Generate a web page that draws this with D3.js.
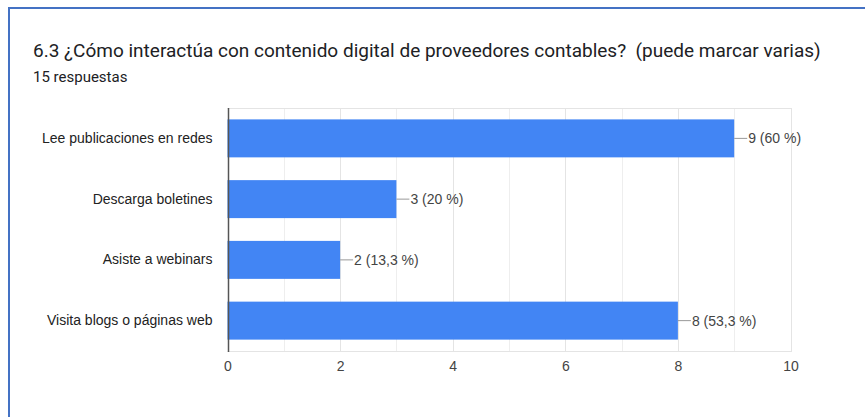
<!DOCTYPE html>
<html>
<head>
<meta charset="utf-8">
<script src="https://cdn.jsdelivr.net/npm/d3@7"></script>
<style>
  html, body { margin: 0; padding: 0; background: #fff; }
  svg { display: block; }
</style>
</head>
<body>
<svg id="chart" width="865" height="417"></svg>
<script>
// Survey answers: counts per option, out of the total respondents
const categories = [
  "Lee publicaciones en redes",
  "Descarga boletines",
  "Asiste a webinars",
  "Visita blogs o páginas web"
];
const counts = [9, 3, 2, 8];
const percentLabels = ["60 %", "20 %", "13,3 %", "53,3 %"];
const xTicks = [0, 2, 4, 6, 8, 10];
const gridValues = [1, 2, 3, 4, 5, 6, 7, 8, 9, 10];
const title = "6.3 ¿Cómo interactúa con contenido digital de proveedores contables?  (puede marcar varias)";
const subtitle = "15 respuestas";

const svg = d3.select("#chart");

// Card frame (top and left edges)
svg.append("rect").attr("x", 8).attr("y", 7).attr("width", 857).attr("height", 2).attr("fill", "#4472c4");
svg.append("rect").attr("x", 8).attr("y", 7).attr("width", 2).attr("height", 410).attr("fill", "#4472c4");

svg.append("text")
  .attr("x", 33).attr("y", 57)
  .attr("font-family", "Roboto, sans-serif")
  .attr("font-size", 19)
  .attr("fill", "#202124")
  .style("white-space", "pre")
  .text(title);

svg.append("text")
  .attr("x", 33).attr("y", 82)
  .attr("font-family", "Roboto, sans-serif")
  .attr("font-size", 15)
  .attr("fill", "#202124")
  .text(subtitle);

const plot = { left: 227.5, right: 790.5, top: 108, bottom: 351 };

const x = d3.scaleLinear().domain([0, 10]).range([plot.left, plot.right]);
const y = d3.scaleBand().domain(categories).range([plot.top, plot.bottom]).paddingInner(0.375).paddingOuter(0.1875);

// Vertical gridlines
svg.append("g")
  .selectAll("line")
  .data(gridValues)
  .join("line")
  .attr("x1", d => Math.round(x(d)) + 0.5)
  .attr("x2", d => Math.round(x(d)) + 0.5)
  .attr("y1", plot.top)
  .attr("y2", plot.bottom)
  .attr("stroke", d => d % 2 === 0 ? "#e4e4e4" : "#eeeeee")
  .attr("stroke-width", 1);

// Top and bottom frame lines
[plot.top, plot.bottom].forEach(v => {
  svg.append("line")
    .attr("x1", plot.left).attr("x2", Math.round(plot.right) + 1)
    .attr("y1", v + 0.5).attr("y2", v + 0.5)
    .attr("stroke", "#e4e4e4");
});

// Bars
svg.append("g")
  .selectAll("rect")
  .data(categories)
  .join("rect")
  .attr("x", x(0))
  .attr("y", d => y(d))
  .attr("width", (d, i) => x(counts[i]) - x(0))
  .attr("height", y.bandwidth())
  .attr("fill", "#4285f4");

// Baseline at zero
svg.append("line")
  .attr("x1", Math.round(x(0)) + 0.5).attr("x2", Math.round(x(0)) + 0.5)
  .attr("y1", plot.top).attr("y2", plot.bottom + 1)
  .attr("stroke", "#555").attr("stroke-width", 1.5);

// Value annotations with leader lines
const ann = svg.append("g");
categories.forEach((c, i) => {
  const cx = x(counts[i]);
  const cy = y(c) + y.bandwidth() / 2;
  ann.append("line")
    .attr("x1", cx).attr("x2", cx + 13)
    .attr("y1", cy).attr("y2", cy)
    .attr("stroke", "#999").attr("stroke-width", 1);
  ann.append("text")
    .attr("x", cx + 14).attr("y", cy)
    .attr("dy", "0.35em")
    .attr("font-family", "Arial, 'Liberation Sans', sans-serif")
    .attr("font-size", 14)
    .attr("fill", "#444")
    .text(`${counts[i]} (${percentLabels[i]})`);
});

// Category axis
const yAxis = d3.axisLeft(y).tickSize(0).tickPadding(15);
const gy = svg.append("g").attr("transform", `translate(${plot.left},0)`).call(yAxis);
gy.select(".domain").remove();
gy.selectAll("text")
  .attr("font-family", "Arial, 'Liberation Sans', sans-serif")
  .attr("font-size", 14)
  .attr("fill", "#222");

// Value axis
const xAxis = d3.axisBottom(x).tickValues(xTicks).tickSize(0).tickPadding(10).tickFormat(d3.format("d"));
const gx = svg.append("g").attr("transform", `translate(0,${plot.bottom})`).call(xAxis);
gx.select(".domain").remove();
gx.selectAll("text")
  .attr("font-family", "Arial, 'Liberation Sans', sans-serif")
  .attr("font-size", 14)
  .attr("fill", "#444");
</script>
</body>
</html>
